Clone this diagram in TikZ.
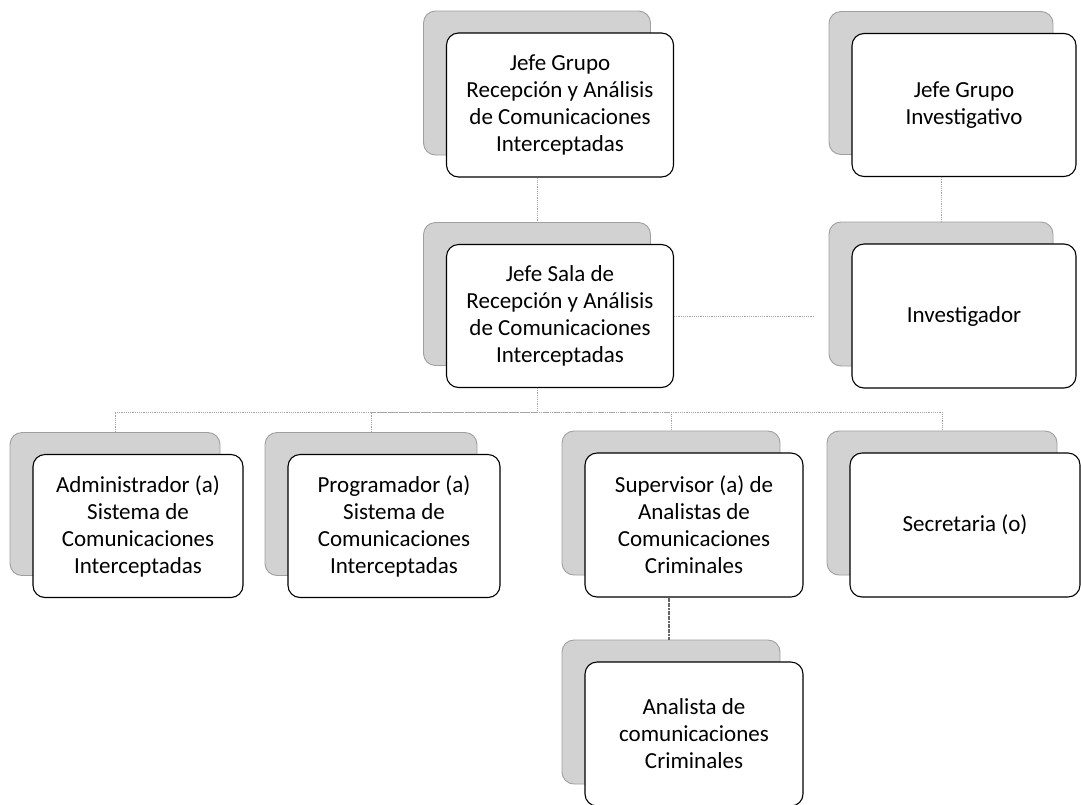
\documentclass[tikz,border=0pt]{standalone}
\usepackage{fontspec}
\setmainfont{Carlito}
\usetikzlibrary{shadows,calc}
\begin{document}
\begin{tikzpicture}[x=1pt,y=-1pt,
  box/.style={draw=black, line width=1.1pt, fill=white, rounded corners=12pt,
    align=center, inner sep=0pt, font=\fontsize{23}{27}\selectfont,
    copy shadow={shadow xshift=-23pt, shadow yshift=22pt, fill=gray!35, draw=gray!75, line width=0.9pt}},
  link/.style={draw=gray!70, line width=0.9pt, dash pattern=on 1.2pt off 1pt},
  darklink/.style={draw=gray!80!black, line width=1.8pt, dash pattern=on 2pt off 0.6pt}]
\useasboundingbox (0,0) rectangle (1081,804);
\node[box, minimum width=227pt, minimum height=144pt] (jg) at (560,105) {Jefe Grupo\\Recepción y Análisis\\de Comunicaciones\\Interceptadas};
\node[box, minimum width=227pt, minimum height=143pt] (js) at (560,316) {Jefe Sala de\\Recepción y Análisis\\de Comunicaciones\\Interceptadas};
\node[box, minimum width=224pt, minimum height=143pt] (ji) at (964,105) {Jefe Grupo\\Investigativo};
\node[box, minimum width=224pt, minimum height=144pt] (inv) at (964,316) {Investigador};
\node[box, minimum width=210pt, minimum height=143pt] (adm) at (138,526) {Administrador (a)\\Sistema de\\Comunicaciones\\Interceptadas};
\node[box, minimum width=212pt, minimum height=143pt] (prog) at (394,526) {Programador (a)\\Sistema de\\Comunicaciones\\Interceptadas};
\node[box, minimum width=218pt, minimum height=144pt] (sup) at (694,525) {Supervisor (a) de\\Analistas de\\Comunicaciones\\Criminales};
\node[box, minimum width=230pt, minimum height=144pt] (sec) at (965,525) {Secretaria (o)};
\node[box, minimum width=218pt, minimum height=144pt] (ana) at (694,734) {Analista de\\comunicaciones\\Criminales};
% connectors
\draw[link] ($(jg.south)+(-23pt,0)$) -- ($(js.north)+(-23pt,22pt)$);
\draw[link] ($(ji.south)+(-23pt,0)$) -- ($(inv.north)+(-23pt,22pt)$);
\draw[link] (js.east) -- ++(140pt,0);
\coordinate (bus) at (537,412);
\draw[link] ($(js.south)+(-23pt,0)$) -- (bus);
\draw[link] ($(adm.north)+(-23pt,22pt)$) |- (bus);
\draw[link] ($(prog.north)+(-23pt,22pt)$) |- (bus);
\draw[link] ($(sup.north)+(-23pt,22pt)$) |- (bus);
\draw[link] ($(sec.north)+(-23pt,22pt)$) |- (bus);
\draw[darklink] ($(sup.south)+(-25pt,0)$) -- ($(ana.north)+(-25pt,22pt)$);
\end{tikzpicture}
\end{document}
